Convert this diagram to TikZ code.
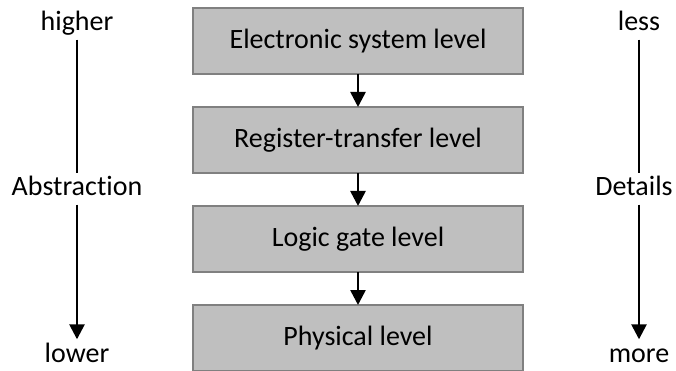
\documentclass[tikz,border=0pt]{standalone}
\usepackage{fontspec}
\setmainfont{Carlito}[Ligatures={NoCommon}]
\usetikzlibrary{positioning, arrows.meta}

\begin{document}
\begin{tikzpicture}[
    x=1pt, y=1pt, >={Triangle[width=15pt, length=15pt]},
    level_box/.style={rectangle, draw=black!50, fill=black!25, line width=1.2pt,
        minimum width=330pt, minimum height=66pt, outer sep=0pt, font=\fontsize{28}{31}\selectfont},
    side_label/.style={inner xsep=0pt, inner ysep=2.5pt, text height=20pt, text depth=6pt,
        font=\fontsize{28}{31}\selectfont},
    side_arrow/.style={line width=2.6pt}
]
\useasboundingbox (0,0) rectangle (676,-371);

% levels
\node[level_box] (esl) at (358,-41) {Electronic system level};
\node[level_box, below=33pt of esl] (rtl) {Register-transfer level};
\node[level_box, below=33pt of rtl] (gate) {Logic gate level};
\node[level_box, below=33pt of gate] (phys) {Physical level};

\draw[side_arrow, ->] (esl) -- (rtl);
\draw[side_arrow, ->] (rtl) -- (gate);
\draw[side_arrow, ->] (gate) -- (phys);

% abstraction axis
\node[side_label] (higher) at (77,-24) {higher};
\node[side_label] (abstr) at (77,-189) {Abstraction};
\node[side_label] (lower) at (77,-355) {lower};
\draw[side_arrow] (higher) -- (abstr);
\draw[side_arrow, ->] (abstr) -- (lower);

% details axis
\node[side_label] (less) at (639,-24) {less};
\node[side_label] (details) at (634,-189) {Details};
\node[side_label] (more) at (639,-355) {more};
\draw[side_arrow] (less) -- (less |- details.north);
\draw[side_arrow, ->] (more |- details.south) -- (more);
\end{tikzpicture}
\end{document}
